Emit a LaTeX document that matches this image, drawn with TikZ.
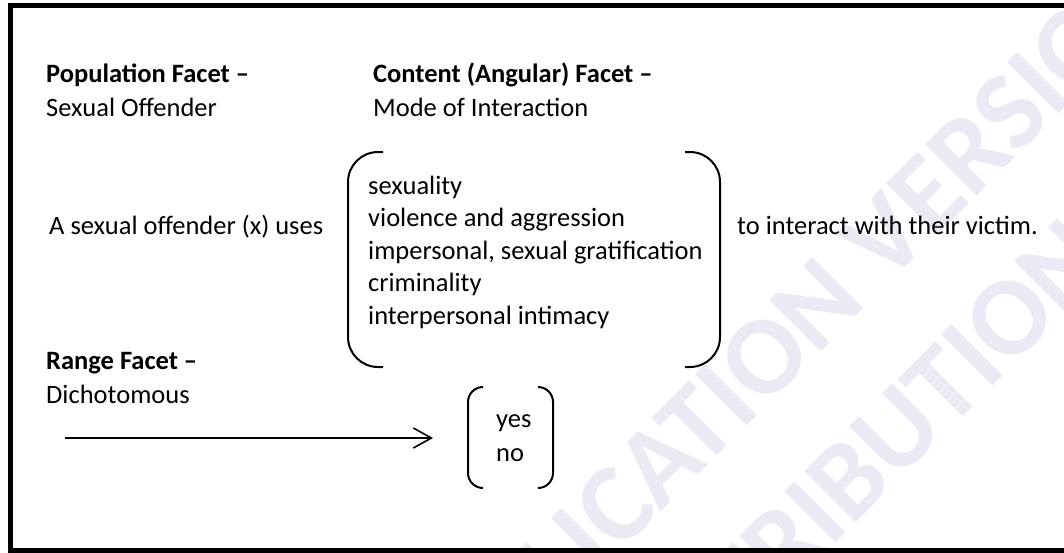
\documentclass[tikz,border=0pt]{standalone}
\usepackage{fontspec}
\setmainfont{Carlito}
\usepackage{xcolor}
\usetikzlibrary{arrows.meta}
\definecolor{wmark}{RGB}{234,234,245}

\begin{document}
\begin{tikzpicture}[x=1pt, y=-1pt,
        txt/.style={anchor=base west, inner sep=0pt, font=\fontsize{26.5}{33}\selectfont},
        head/.style={txt, font=\fontsize{26.5}{33}\selectfont\bfseries},
        paren/.style={line width=2pt, rounded corners=30pt},
        wm/.style={anchor=base west, inner sep=0pt, wmark, rotate=45, font=\fontsize{112}{112}\selectfont\bfseries}]
        \useasboundingbox (0,0) rectangle (1064,552);

        \node[wm] (wmver) at (426,747) {PUBLICATION VERSION};
        \node[wm] (wmdist) at (639,740) {DISTRIBUTION};

        \draw[line width=5pt] (10,5.5) rectangle (1090,550);

        %%%

        \node[head] (pophead) at (46,82) {Population Facet --};
        \node[txt] (popval) at (46,116) {Sexual Offender};

        \node[head] (conthead) at (373,82) {Content (Angular) Facet --};
        \node[txt] (contval) at (373,116) {Mode of Interaction};

        \node[txt] (offender) at (49,234) {A sexual offender (x) uses};

        \draw[paren] (383,152) -- (348,152) -- (348,367) -- (383,367);
        \draw[paren] (685,152) -- (720,152) -- (720,367) -- (685,367);

        \node[txt] (modea) at (368,194) {sexuality};
        \node[txt] (modeb) at (368,226.5) {violence and aggression};
        \node[txt] (modec) at (368,259) {impersonal, sexual gratification};
        \node[txt] (moded) at (368,291.5) {criminality};
        \node[txt] (modee) at (368,324) {interpersonal intimacy};

        \node[txt] (victim) at (737,234) {to interact with their victim.};

        %%%

        \node[head] (rangehead) at (46,369) {Range Facet --};
        \node[txt] (rangeval) at (46,403) {Dichotomous};

        \draw[paren, rounded corners=15pt] (483,387) -- (468,387) -- (468,488) -- (483,488);
        \draw[paren, rounded corners=15pt] (538,387) -- (553,387) -- (553,488) -- (538,488);

        \node[txt] (yes) at (496,427) {yes};
        \node[txt] (no) at (496,461) {no};

        \coordinate (rangefrom) at (65,438);
        \coordinate (rangeto) at (433,438);
        \draw[line width=1.6pt, -{Straight Barb[length=18pt, width=20pt, line width=1.6pt]}] (rangefrom) -- (rangeto);
    \end{tikzpicture}
\end{document}
